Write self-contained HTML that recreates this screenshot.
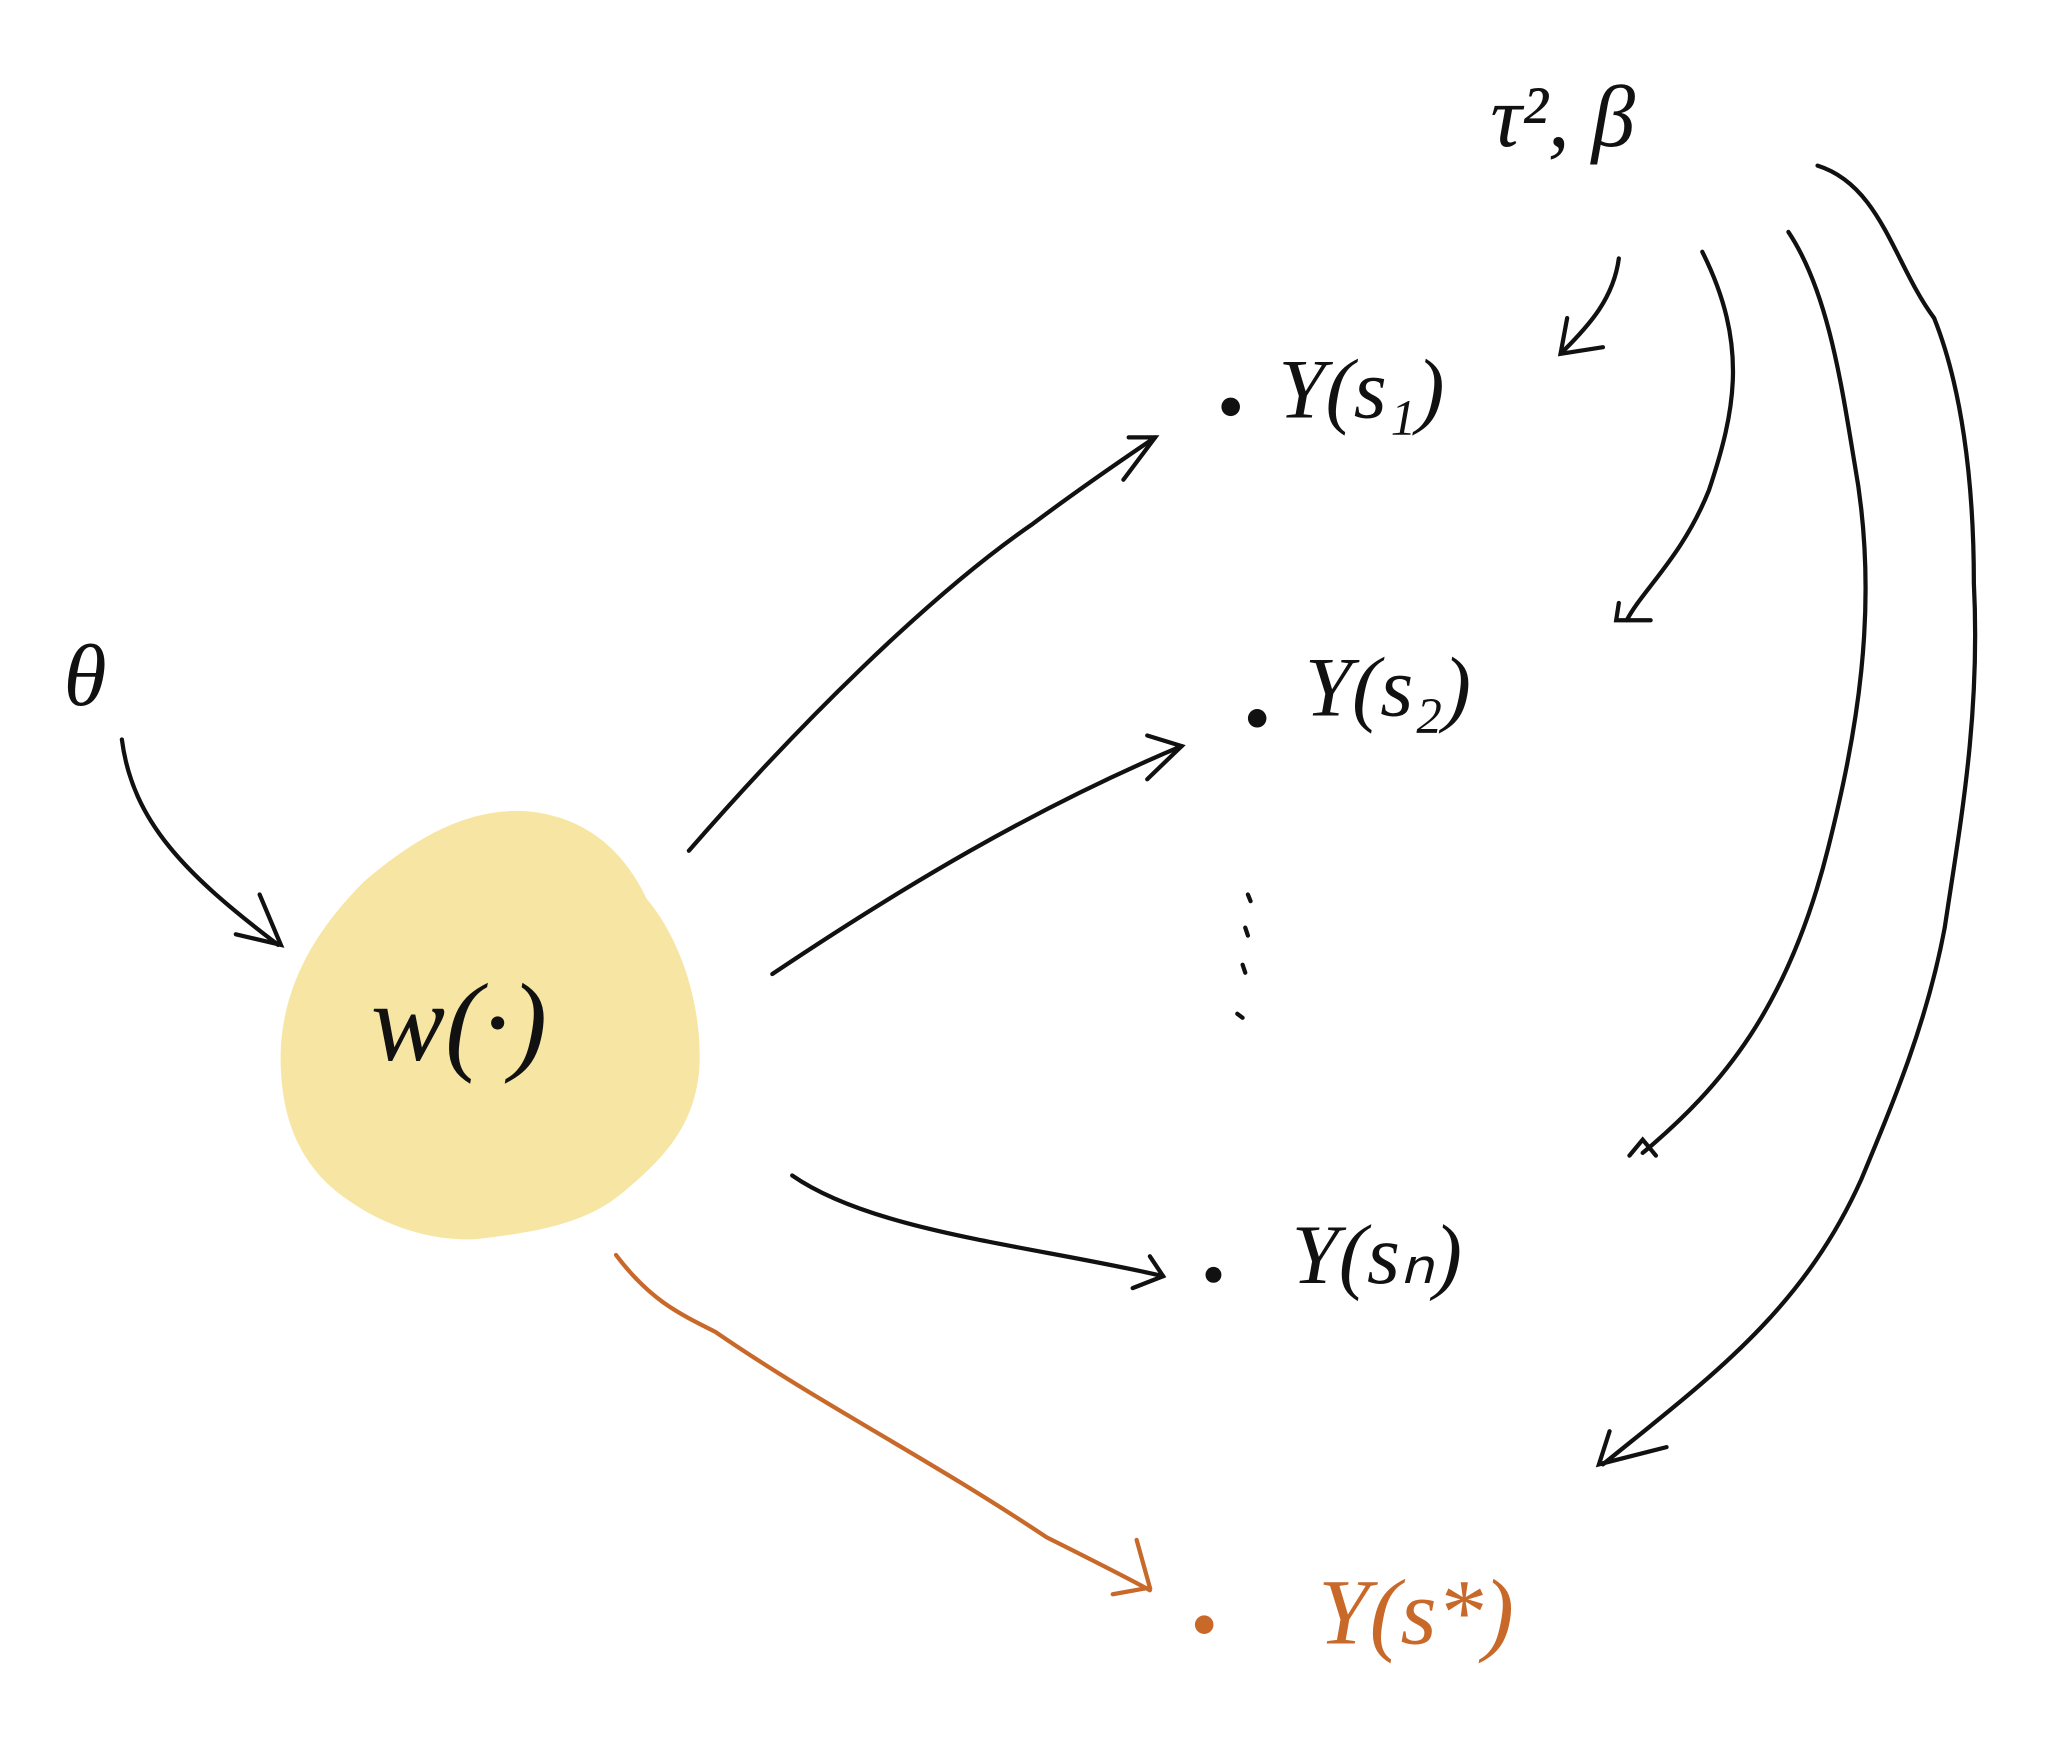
<!DOCTYPE html>
<html><head><meta charset="utf-8"><style>
html,body{margin:0;padding:0;background:#fff;}
svg{display:block;}
text{font-family:"Liberation Serif",serif;font-style:italic;}
</style></head><body>
<svg width="2056" height="1740" viewBox="0 0 1552 1313" preserveAspectRatio="none" xmlns="http://www.w3.org/2000/svg">
<rect width="1552" height="1313" fill="#fff"/>
<path d="M395,612 C440,615 470,640 488,678 C515,710 530,760 528,805 C525,850 500,875 470,900 C440,925 400,930 360,935 C325,937 290,925 262,905 C225,880 210,840 212,790 C215,740 240,700 275,665 C310,635 350,610 395,612 Z" fill="#F7E6A3"/>
<g fill="none" stroke="#111" stroke-width="3.2" stroke-linecap="round">
<path d="M92,558 C100,620 140,660 210,713"/>
<path d="M178,705 L212,713 L196,675"/>
<path d="M520,642 C600,550 700,450 780,395 C820,365 850,345 872,330"/>
<path d="M852,330 L872,330 L848,362"/>
<path d="M583,735 C680,670 780,610 892,563"/>
<path d="M866,555 L892,563 L866,588"/>
<path d="M598,887 C660,930 780,940 878,963"/>
<path d="M868,948 L878,963 L855,972"/>
<path d="M1222,195 C1218,225 1200,245 1180,265"/>
<path d="M1183,240 L1178,267 L1210,262"/>
<path d="M1285,190 C1320,260 1310,310 1290,370 C1270,420 1240,445 1228,468"/>
<path d="M1222,455 L1220,468 L1246,468"/>
<path d="M1350,175 C1380,220 1390,290 1400,350 C1420,460 1400,560 1380,640 C1350,760 1300,820 1240,870"/>
<path d="M1230,872 L1240,860 L1250,872"/>
<path d="M1372,125 C1420,140 1430,200 1460,240 C1480,290 1490,360 1490,440 C1495,540 1480,620 1468,700 C1455,770 1430,830 1405,890 C1360,990 1290,1040 1210,1105"/>
<path d="M1215,1080 L1207,1105 L1258,1092"/>
<path d="M942,675 L944,680 M940,700 L942,706 M938,728 L940,734 M934,765 L938,768"/>
</g>
<g fill="none" stroke="#C8692A" stroke-width="3.2" stroke-linecap="round">
<path d="M465,947 C490,980 510,990 540,1005 C620,1060 700,1100 790,1160 C830,1180 850,1190 868,1200"/>
<path d="M858,1162 L868,1198 L840,1203"/>
</g>
<circle cx="929" cy="307" r="7" fill="#111"/>
<circle cx="949" cy="542" r="7" fill="#111"/>
<circle cx="916" cy="962" r="6" fill="#111"/>
<circle cx="909" cy="1226" r="7" fill="#C8692A"/>
<text x="1125" y="110" font-size="66" fill="#111">τ², β</text>
<text x="48" y="532" font-size="66" fill="#111">θ</text>
<text x="280" y="800" font-size="84" fill="#111">w(·)</text>
<text x="965" y="315" font-size="64" fill="#111">Y(s₁)</text>
<text x="985" y="540" font-size="64" fill="#111">Y(s₂)</text>
<text x="975" y="968" font-size="64" fill="#111">Y(sₙ)</text>
<text x="995" y="1240" font-size="70" fill="#C8692A">Y(s*)</text>
</svg>
</body></html>
